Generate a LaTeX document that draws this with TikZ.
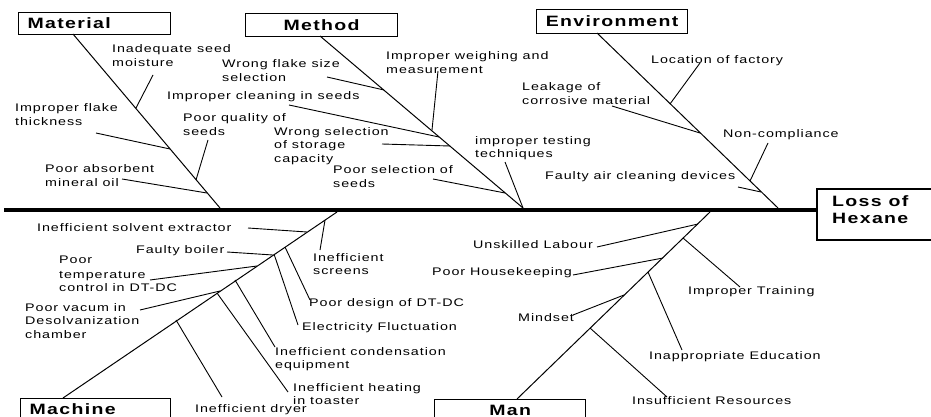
\documentclass[tikz,border=0pt]{standalone}
\usepackage{fontspec}
\setmainfont{Liberation Sans}
\newfontfamily\twigfont{Liberation Sans}[FakeStretch=1.3,LetterSpace=8.5]
\newfontfamily\headfont{Liberation Sans}[FakeStretch=1.3,LetterSpace=9]
\begin{document}
\begin{tikzpicture}[x=1pt,y=-1pt,
  lbl/.style={font=\twigfont\fontsize{11}{13.5}\selectfont, inner sep=0pt, anchor=west, align=left},
  hdr/.style={draw, line width=1.2pt, font=\headfont\bfseries\fontsize{15}{17}\selectfont, inner ysep=0pt, anchor=north west},
  bone/.style={line width=1pt},
  twig/.style={line width=0.9pt},
  spine/.style={line width=4.5pt}]
\useasboundingbox (0,0) rectangle (931,417);

% effect box and spine
\node[draw, line width=2pt, minimum width=122pt, minimum height=51pt, anchor=north west, inner sep=0pt] (lossbox) at (816,188) {};
\node[font=\headfont\bfseries\fontsize{15}{17}\selectfont, anchor=west, align=left, inner sep=0pt] (loss) at (832,209.5) {Loss of\\Hexane};
\coordinate (tail) at (4,210);
\draw[spine] (tail) -- (tail -| lossbox.west);

% category boxes
\node[hdr, minimum width=152pt, minimum height=22pt, text width=134pt, inner xsep=9pt, align=left] (material) at (18,12) {Material};
\node[hdr, minimum width=152pt, minimum height=23pt] (method) at (245,13) {Method};
\node[hdr, minimum width=151pt, minimum height=24pt] (environment) at (536,9) {Environment};
\node[hdr, minimum width=150pt, minimum height=21pt, text width=132pt, inner xsep=9pt, align=left] (machine) at (20,398) {Machine};
\node[hdr, minimum width=151pt, minimum height=21pt] (man) at (434,399) {Man};

% main bones
\coordinate (matA) at (73,34);   \coordinate (matB) at (220,208);
\coordinate (metA) at (320,36);  \coordinate (metB) at (523,208);
\coordinate (envA) at (597,33);  \coordinate (envB) at (778,208);
\coordinate (macA) at (63,398);  \coordinate (macB) at (337,212);
\coordinate (manA) at (517,399); \coordinate (manB) at (710,212);
\draw[bone] (matA) -- (matB);
\draw[bone] (metA) -- (metB);
\draw[bone] (envA) -- (envB);
\draw[bone] (macA) -- (macB);
\draw[bone] (manA) -- (manB);

% Material causes
\node[lbl] (inadq) at (112,55.5) {Inadequate seed\\moisture};
\node[lbl] (flake) at (15,114.5) {Improper flake\\thickness};
\node[lbl] (quality) at (183,124.5) {Poor quality of\\seeds};
\node[lbl] (absorb) at (45,175.5) {Poor absorbent\\mineral oil};
\coordinate (inadqS) at (153,75);   \coordinate (inadqB) at (136,108);
\coordinate (flakeS) at (96,133);   \coordinate (flakeB) at (170,149);
\coordinate (qualS) at (208,140);   \coordinate (qualB) at (196,180);
\coordinate (absS) at (122,179);    \coordinate (absB) at (207,193);
\draw[twig] (inadqS) -- (inadqB);
\draw[twig] (flakeS) -- (flakeB);
\draw[twig] (qualS) -- (qualB);
\draw[twig] (absS) -- (absB);

% Method causes
\node[lbl] (size) at (222,70.5) {Wrong flake size\\selection};
\node[lbl] (clean) at (167,97) {Improper cleaning in seeds};
\node[lbl] (weigh) at (386,62.5) {Improper weighing and\\measurement};
\node[lbl] (storage) at (274,146) {Wrong selection\\of storage\\capacity};
\node[lbl] (testing) at (475,148) {improper testing\\techniques};
\node[lbl] (select) at (333,176.5) {Poor selection of\\seeds};
\coordinate (sizeS) at (327,77);    \coordinate (sizeB) at (384,90);
\coordinate (cleanS) at (289,105);  \coordinate (cleanB) at (439,137);
\coordinate (weighS) at (438,71);   \coordinate (weighB) at (432,130);
\coordinate (storS) at (382,144);   \coordinate (storB) at (450,146);
\coordinate (testS) at (505,162);
\coordinate (selS) at (433,179);    \coordinate (selB) at (505,193);
\draw[twig] (sizeS) -- (sizeB);
\draw[twig] (cleanS) -- (cleanB);
\draw[twig] (weighS) -- (weighB);
\draw[twig] (storS) -- (storB);
\draw[twig] (testS) -- (metB);
\draw[twig] (selS) -- (selB);

% Environment causes
\node[lbl] (location) at (651,61) {Location of factory};
\node[lbl] (leak) at (522,93.5) {Leakage of\\corrosive material};
\node[lbl] (noncomp) at (723,135) {Non-compliance};
\node[lbl] (airclean) at (545,177) {Faulty air cleaning devices};
\coordinate (locS) at (700,63);     \coordinate (locB) at (670,104);
\coordinate (leakS) at (612,106);   \coordinate (leakB) at (700,133);
\coordinate (nonS) at (768,143);    \coordinate (nonB) at (750,181);
\coordinate (airS) at (738,187);    \coordinate (airB) at (761,192);
\draw[twig] (locS) -- (locB);
\draw[twig] (leakS) -- (leakB);
\draw[twig] (nonS) -- (nonB);
\draw[twig] (airS) -- (airB);

% Machine causes
\node[lbl] (solvent) at (37,228) {Inefficient solvent extractor};
\node[lbl] (screens) at (313,264) {Inefficient\\screens};
\node[lbl] (boiler) at (136,251) {Faulty boiler};
\node[lbl] (temp) at (59,274) {Poor\\[1.5pt]temperature\\control in DT-DC};
\node[lbl] (vacum) at (25,321) {Poor vacum in\\Desolvanization\\chamber};
\node[lbl] (design) at (309,304) {Poor design of DT-DC};
\node[lbl] (electric) at (302,328) {Electricity Fluctuation};
\node[lbl] (condens) at (275,359) {Inefficient condensation\\equipment};
\node[lbl] (heating) at (293,394) {Inefficient heating\\in toaster};
\node[lbl] (dryer) at (195,410) {Inefficient dryer};
\coordinate (solvS) at (248,228);   \coordinate (solvB) at (307,232);
\coordinate (scrB) at (325,220);    \coordinate (scrE) at (320,250);
\coordinate (boilS) at (227,252);   \coordinate (boilB) at (273,255);
\coordinate (tempS) at (150,280);   \coordinate (tempB) at (257,266);
\coordinate (vacS) at (140,310);    \coordinate (vacB) at (220,291);
\coordinate (desB) at (285,247);    \coordinate (desE) at (310,300);
\coordinate (eleB) at (274,254);    \coordinate (eleE) at (298,325);
\coordinate (conB) at (235,280);    \coordinate (conE) at (275,347);
\coordinate (heaB) at (217,293);    \coordinate (heaE) at (288,392);
\coordinate (dryB) at (176,320);    \coordinate (dryE) at (222,397);
\draw[twig] (solvS) -- (solvB);
\draw[twig] (scrB) -- (scrE);
\draw[twig] (boilS) -- (boilB);
\draw[twig] (tempS) -- (tempB);
\draw[twig] (vacS) -- (vacB);
\draw[twig] (desB) -- (desE);
\draw[twig] (eleB) -- (eleE);
\draw[twig] (conB) -- (conE);
\draw[twig] (heaB) -- (heaE);
\draw[twig] (dryB) -- (dryE);

% Man causes
\node[lbl] (unskilled) at (473,245) {Unskilled Labour};
\node[lbl] (housekeep) at (432,273) {Poor Housekeeping};
\node[lbl] (mindset) at (518,318) {Mindset};
\node[lbl] (training) at (688,292) {Improper Training};
\node[lbl] (education) at (649,357) {Inappropriate Education};
\node[lbl] (resources) at (632,401) {Insufficient Resources};
\coordinate (unsS) at (597,247);    \coordinate (unsB) at (698,224);
\coordinate (houS) at (573,275);    \coordinate (houB) at (663,258);
\coordinate (minS) at (573,315);    \coordinate (minB) at (624,295);
\coordinate (traB) at (683,238);    \coordinate (traE) at (740,287);
\coordinate (eduB) at (648,272);    \coordinate (eduE) at (682,350);
\coordinate (resB) at (590,328);    \coordinate (resE) at (667,397);
\draw[twig] (unsS) -- (unsB);
\draw[twig] (houS) -- (houB);
\draw[twig] (minS) -- (minB);
\draw[twig] (traB) -- (traE);
\draw[twig] (eduB) -- (eduE);
\draw[twig] (resB) -- (resE);
\end{tikzpicture}
\end{document}
